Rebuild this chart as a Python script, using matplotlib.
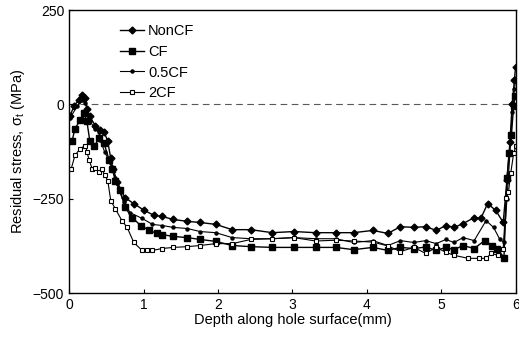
import matplotlib.pyplot as plt

plt.rcParams['font.family'] = ['Liberation Sans', 'DejaVu Sans']
plt.rcParams['mathtext.fontset'] = 'custom'
plt.rcParams['mathtext.rm'] = 'Liberation Sans'
plt.rcParams['mathtext.it'] = 'Liberation Sans'

# Depth (mm) and residual stress (MPa)
x_noncf = [0.01, 0.07, 0.13, 0.17, 0.22, 0.24, 0.28, 0.35, 0.42, 0.47, 0.52, 0.56, 0.59,
           0.65, 0.75, 0.87, 1.01, 1.14, 1.25, 1.40, 1.59, 1.76, 1.97, 2.19, 2.44, 2.73,
           3.02, 3.31, 3.58, 3.82, 4.08, 4.28, 4.45, 4.63, 4.79, 4.93, 5.06, 5.17, 5.29,
           5.44, 5.53, 5.62, 5.73, 5.83, 5.88, 5.92, 5.95, 5.98, 5.995]
y_noncf = [-32, -3, 11, 24, 16, -11, -32, -56, -69, -72, -98, -143, -170,
           -207, -247, -263, -281, -294, -297, -305, -310, -313, -318, -332, -332, -340,
           -337, -340, -340, -340, -334, -342, -324, -326, -324, -334, -321, -326, -316,
           -300, -302, -263, -281, -313, -200, -100, 0, 64, 98]

x_cf = [0.04, 0.08, 0.15, 0.20, 0.24, 0.28, 0.34, 0.40, 0.47, 0.54, 0.58, 0.62, 0.69,
        0.75, 0.85, 0.96, 1.08, 1.18, 1.25, 1.40, 1.59, 1.76, 1.97, 2.19, 2.44, 2.73,
        3.02, 3.31, 3.58, 3.82, 4.08, 4.28, 4.45, 4.63, 4.79, 4.93, 5.06, 5.17, 5.29,
        5.44, 5.58, 5.68, 5.75, 5.84, 5.88, 5.91, 5.94, 5.97, 5.99]
y_cf = [-98, -64, -42, -24, -45, -98, -111, -90, -103, -148, -170, -202, -228,
        -273, -300, -321, -334, -342, -345, -350, -353, -358, -363, -374, -377, -379,
        -379, -379, -379, -385, -379, -387, -379, -382, -378, -387, -379, -385, -374,
        -382, -361, -374, -382, -406, -196, -130, -82, -3, 22]

x_05cf = [0.01, 0.11, 0.17, 0.22, 0.28, 0.35, 0.40, 0.42, 0.48, 0.55, 0.62, 0.67, 0.74,
          0.82, 0.98, 1.12, 1.25, 1.40, 1.59, 1.76, 1.97, 2.19, 2.44, 2.73, 3.02, 3.31,
          3.58, 3.82, 4.08, 4.28, 4.45, 4.63, 4.79, 4.93, 5.06, 5.17, 5.29, 5.44, 5.60,
          5.70, 5.78, 5.84, 5.88, 5.92, 5.95, 5.98, 6.0]
y_05cf = [-37, -5, 11, 3, -45, -64, -72, -95, -127, -154, -194, -228, -260,
          -287, -302, -318, -321, -326, -329, -337, -340, -353, -356, -356, -353, -356,
          -356, -366, -361, -374, -361, -366, -361, -369, -358, -366, -353, -361, -308,
          -326, -356, -366, -250, -130, -20, 40, 70]

x_2cf = [0.03, 0.08, 0.15, 0.22, 0.24, 0.27, 0.31, 0.35, 0.40, 0.44, 0.48, 0.52, 0.56,
         0.62, 0.71, 0.78, 0.87, 0.98, 1.05, 1.12, 1.25, 1.40, 1.59, 1.76, 1.97, 2.19,
         2.44, 2.73, 3.02, 3.31, 3.58, 3.82, 4.08, 4.28, 4.45, 4.63, 4.79, 4.93, 5.06,
         5.17, 5.36, 5.51, 5.60, 5.67, 5.76, 5.83, 5.87, 5.90, 5.93, 5.97, 6.0]
y_2cf = [-170, -135, -117, -109, -125, -148, -170, -168, -178, -170, -188, -202, -255,
         -276, -308, -326, -366, -387, -385, -387, -382, -379, -377, -374, -369, -369,
         -358, -356, -353, -362, -360, -362, -365, -375, -390, -379, -395, -379, -392,
         -400, -408, -408, -408, -395, -400, -382, -249, -233, -183, -130, -110]

fig = plt.figure(figsize=(5.19, 3.46), dpi=100)
ax = fig.add_axes([0.133, 0.153, 0.861, 0.818])

ax.axhline(0, color='0.35', lw=0.8, ls=(0, (6, 4)), zorder=1)

ax.plot(x_noncf, y_noncf, '-', color='black', lw=1.0, marker='D', ms=3.5,
        mfc='black', label='NonCF')
ax.plot(x_cf, y_cf, '-', color='black', lw=1.0, marker='s', ms=4.5,
        mfc='black', label='CF')
ax.plot(x_05cf, y_05cf, '-', color='black', lw=0.8, marker='o', ms=2.2,
        mfc='black', label='0.5CF')
ax.plot(x_2cf, y_2cf, '-', color='black', lw=0.8, marker='s', ms=3.2,
        mfc='white', mew=0.8, label='2CF')

ax.set_xlim(0, 6)
ax.set_ylim(-500, 250)
ax.set_xticks([0, 1, 2, 3, 4, 5, 6])
ax.set_yticks([-500, -250, 0, 250])
ax.tick_params(direction='in', length=3, labelsize=10, width=0.8)
for s in ax.spines.values():
    s.set_linewidth(1.0)

ax.set_xlabel('Depth along hole surface(mm)', fontsize=10.5, labelpad=1)
ax.set_ylabel('Residual stress, σ$_t$ (MPa)', fontsize=10.5, labelpad=4)

ax.legend(loc='upper left', bbox_to_anchor=(0.095, 0.98), frameon=False,
          fontsize=10.5, handlelength=1.6, handletextpad=0.3, labelspacing=0.45,
          borderaxespad=0.2)

fig.savefig('out.png', dpi=100)
